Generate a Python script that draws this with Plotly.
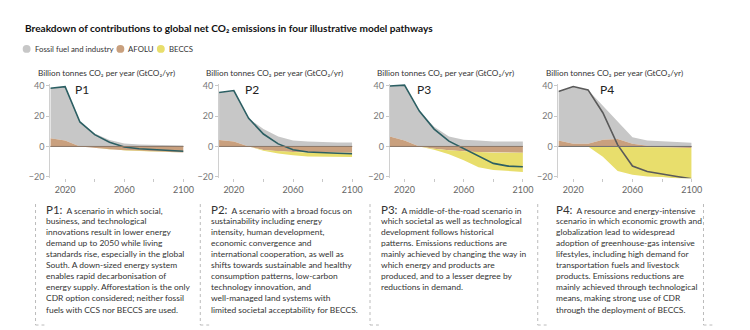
import plotly.graph_objects as go

years = [2010, 2020, 2030, 2040, 2050, 2060, 2070, 2080, 2090, 2100]

p1_fossil = [33.1, 35.7, 16.2, 8.6, 4.2, 2.0, 1.2, 0.9, 0.7, 0.6]
p1_afolu = [5.4, 3.9, 0.0, -0.8, -1.8, -2.5, -3.0, -3.4, -3.7, -4.0]
p1_beccs = [0, 0, 0, 0, 0, 0, 0, 0, 0, 0]
p1_net = [38.5, 39.6, 16.2, 7.8, 2.8, -0.4, -1.5, -2.2, -2.8, -3.2]

p2_fossil = [31.4, 33.8, 18.6, 11.5, 6.5, 3.9, 3.2, 2.8, 2.6, 2.6]
p2_afolu = [4.3, 3.2, 0.0, -2.4, -3.2, -3.7, -4.0, -4.1, -4.1, -4.1]
p2_beccs = [0, 0, 0, -0.5, -1.5, -2.2, -2.6, -2.8, -2.9, -2.9]
p2_net = [35.7, 37.0, 18.6, 8.2, 1.7, -2.2, -3.7, -4.3, -4.5, -4.8]

p3_fossil = [33.5, 36.7, 23.4, 13.0, 6.5, 4.5, 3.9, 3.2, 3.2, 3.2]
p3_afolu = [6.5, 3.9, 0.0, -1.5, -2.6, -3.2, -3.8, -4.1, -4.1, -4.1]
p3_beccs = [0, 0, 0, -0.7, -2.6, -5.9, -10.0, -11.5, -12.1, -12.8]
p3_net = [40.0, 40.6, 23.4, 11.5, 3.5, -1.5, -6.5, -11.2, -13.0, -13.4]

p4_fossil = [32.4, 37.9, 35.7, 22.4, 11.5, 4.3, 3.4, 3.5, 3.0, 2.4]
p4_afolu = [3.9, 1.7, 1.7, 4.5, 5.0, 1.7, 0.5, -0.5, -0.8, -1.0]
p4_beccs = [0, 0, 0, -6.9, -16.2, -18.8, -19.9, -19.8, -20.4, -22.1]
p4_net = [36.3, 39.6, 37.4, 22.3, 1.0, -13.0, -16.6, -18.4, -19.9, -21.4]

pathways = ["P1", "P2", "P3", "P4"]
fossil = [p1_fossil, p2_fossil, p3_fossil, p4_fossil]
afolu = [p1_afolu, p2_afolu, p3_afolu, p4_afolu]
beccs = [p1_beccs, p2_beccs, p3_beccs, p4_beccs]
net = [p1_net, p2_net, p3_net, p4_net]

y_ticks = [-20, 0, 20, 40]

descriptions = [
    ["A scenario in which social,", "business, and technological", "innovations result in lower energy",
     "demand up to 2050 while living", "standards rise, especially in the global",
     "South. A down-sized energy system", "enables rapid decarbonisation of",
     "energy supply. Afforestation is the only", "CDR option considered; neither fossil",
     "fuels with CCS nor BECCS are used."],
    ["A scenario with a broad focus on", "sustainability including energy", "intensity, human development,",
     "economic convergence and", "international cooperation, as well as",
     "shifts towards sustainable and healthy", "consumption patterns, low-carbon",
     "technology innovation, and", "well-managed land systems with",
     "limited societal acceptability for BECCS."],
    ["A middle-of-the-road scenario in", "which societal as well as technological",
     "development follows historical", "patterns. Emissions reductions are",
     "mainly achieved by changing the way in", "which energy and products are",
     "produced, and to a lesser degree by", "reductions in demand."],
    ["A resource and energy-intensive", "scenario in which economic growth and",
     "globalization lead to widespread", "adoption of greenhouse-gas intensive",
     "lifestyles, including high demand for", "transportation fuels and livestock",
     "products. Emissions reductions are", "mainly achieved through technological",
     "means, making strong use of CDR", "through the deployment of BECCS."],
]

W, H = 750, 330
FONT = "Lato, 'Source Sans Pro', sans-serif"
GRAY = "#c7c7c7"
BROWN = "#c9a07e"
YELLOW = "#e8de6c"
LINE_COLORS = ["#2c5f63", "#2c5f63", "#2c5f63", "#5a5a5a"]
LABEL_X = [2025, 2026, 2027, 2036.5]

def px(x):
    return x / W

def py(y):
    return (H - y) / H

x_left = [51, 222, 395, 566]
plot_w = 135
y_dom = [py(178.5), py(81.7)]

fig = go.Figure()
layout_axes = {}
shapes = []
annotations = []

for i in range(4):
    xa = "x" if i == 0 else f"x{i+1}"
    ya = "y" if i == 0 else f"y{i+1}"
    f, a, b, n = fossil[i], afolu[i], beccs[i], net[i]
    a_pos = [max(v, 0) for v in a]
    a_neg = [min(v, 0) for v in a]
    top = [ap + fv for ap, fv in zip(a_pos, f)]
    bottom = [an + bv for an, bv in zip(a_neg, b)]
    zeros = [0] * len(years)

    def band(upper, lower, color):
        fig.add_trace(go.Scatter(
            x=years + years[::-1], y=upper + lower[::-1],
            fill="toself", fillcolor=color, mode="lines",
            line=dict(width=0), hoverinfo="skip", showlegend=False,
            xaxis=xa, yaxis=ya))

    band(top, a_pos, GRAY)
    band(a_pos, zeros, BROWN)
    band(zeros, a_neg, BROWN)
    band(a_neg, bottom, YELLOW)

    shapes.append(dict(type="line", xref=f"{xa} domain", yref=ya,
                       x0=0, x1=1, y0=0, y1=0,
                       line=dict(color="#8a7565" if i < 3 else "#6e6e6e", width=1),
                       layer="above"))

    fig.add_trace(go.Scatter(
        x=years, y=n, mode="lines",
        line=dict(color=LINE_COLORS[i], width=1.6),
        hoverinfo="skip", showlegend=False, xaxis=xa, yaxis=ya))

    dom = [px(x_left[i]), px(x_left[i] + plot_w)]
    xkey = "xaxis" if i == 0 else f"xaxis{i+1}"
    ykey = "yaxis" if i == 0 else f"yaxis{i+1}"
    layout_axes[xkey] = dict(
        domain=dom, range=[2010, 2100], anchor=ya,
        showgrid=False, zeroline=False, showline=False,
        ticks="outside", ticklen=3, tickcolor="#c8c8c8",
        tick0=2020, dtick=40,
        minor=dict(ticks="outside", ticklen=3, tickcolor="#c8c8c8",
                   tick0=2020, dtick=20),
        tickfont=dict(size=9, color="#666", family=FONT))
    layout_axes[ykey] = dict(
        domain=y_dom, range=[-21, 41.5], anchor=xa,
        showgrid=False, zeroline=False, showline=True,
        linecolor="#d0d0d0", linewidth=1,
        ticks="outside", ticklen=3, tickcolor="#c8c8c8",
        tickvals=y_ticks,
        tickfont=dict(size=9, color="#777", family=FONT))

    annotations.append(dict(
        xref=xa, yref=ya, x=LABEL_X[i], y=38, text=pathways[i],
        showarrow=False, xanchor="left", yanchor="middle",
        font=dict(size=12, color="#222", family=FONT)))

    annotations.append(dict(
        xref="paper", yref="paper", x=px(x_left[i] - 15), y=py(71),
        text="Billion tonnes CO₂ per year (GtCO₂/yr)",
        showarrow=False, xanchor="left", yanchor="middle",
        font=dict(size=8.2, color="#333", family=FONT)))

# description boxes
box_left = [36, 203, 375, 545]
text_left = [46, 213, 385, 562]
for i in range(4):
    for k, line in enumerate(descriptions[i]):
        txt = line
        if k == 0:
            txt = f"<span style='font-size:11.5px'>{pathways[i]}:</span>  " + line
        annotations.append(dict(
            xref="paper", yref="paper", x=px(text_left[i] - 1), y=py(211 + k * 11.35),
            text=txt, showarrow=False, align="left",
            xanchor="left", yanchor="middle",
            font=dict(size=8.45, color="#333", family=FONT)))
for bx in box_left + [713]:
    shapes.append(dict(type="line", xref="paper", yref="paper",
                       x0=px(bx), x1=px(bx), y0=py(205), y1=py(329),
                       line=dict(color="#bbbbbb", width=1, dash="dot")))
    shapes.append(dict(type="line", xref="paper", yref="paper",
                       x0=px(bx), x1=px(bx + 9), y0=py(329), y1=py(329),
                       line=dict(color="#bbbbbb", width=1, dash="dot")))

# title
annotations.append(dict(
    xref="paper", yref="paper", x=px(23), y=py(25),
    text="<b>Breakdown of contributions to global net CO₂ emissions in four illustrative model pathways</b>",
    showarrow=False, xanchor="left", yanchor="middle",
    font=dict(size=10.1, color="#111", family=FONT)))

# legend
legend_items = [("Fossil fuel and industry", GRAY, 27), ("AFOLU", BROWN, 122), ("BECCS", YELLOW, 163)]
for label, color, lx in legend_items:
    shapes.append(dict(type="circle", xref="paper", yref="paper",
                       x0=px(lx - 4), x1=px(lx + 4), y0=py(50), y1=py(42),
                       fillcolor=color, line=dict(width=0)))
    annotations.append(dict(
        xref="paper", yref="paper", x=px(lx + 6), y=py(46), text=label,
        showarrow=False, xanchor="left", yanchor="middle",
        font=dict(size=7.8, color="#333", family=FONT)))

fig.update_layout(
    width=W, height=H, margin=dict(l=0, r=0, t=0, b=0),
    paper_bgcolor="white", plot_bgcolor="white",
    shapes=shapes, annotations=annotations, showlegend=False,
    **layout_axes)

fig.write_html("out.html")
